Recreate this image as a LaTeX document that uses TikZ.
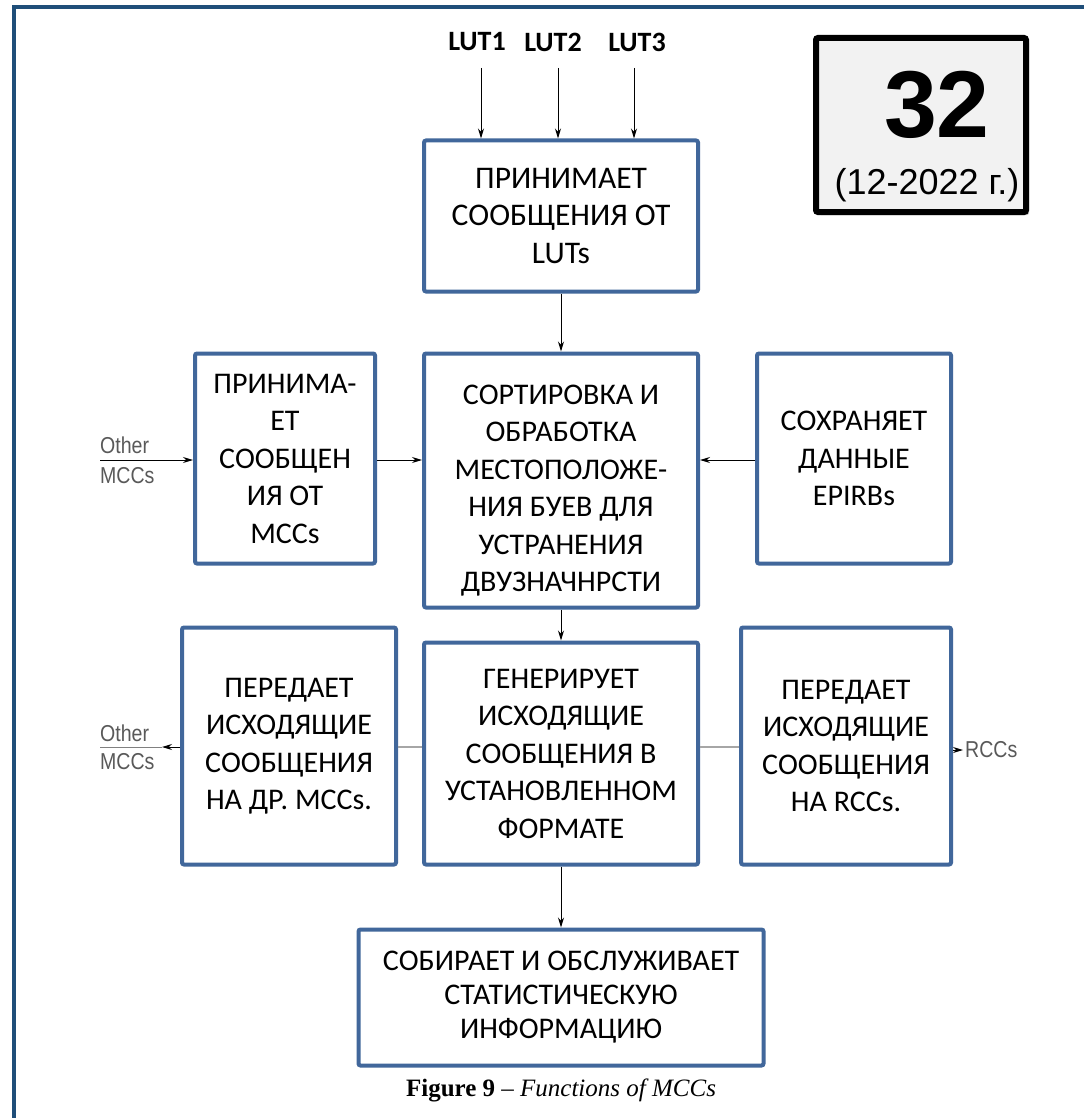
\documentclass[tikz,border=0pt]{standalone}
\usepackage{fontspec}
\setmainfont{Carlito}
\newfontfamily\arialfont{Liberation Sans}
\newfontfamily\narrowfont[FakeStretch=0.85]{Liberation Sans}
\newfontfamily\timesfont{Liberation Serif}
\usetikzlibrary{arrows.meta,shadows}
\definecolor{frameblue}{RGB}{31,78,121}
\definecolor{boxblue}{RGB}{65,103,155}
\definecolor{badgefill}{RGB}{242,242,242}
\begin{document}
\begin{tikzpicture}[x=1pt,y=-1pt,
  fn/.style={draw=boxblue, line width=4pt, rounded corners=2pt, fill=white,
    inner sep=0pt, align=center, font=\fontsize{30}{37.5}\selectfont},
  arr/.style={-{Stealth[length=10pt,width=6pt]}, line width=1pt},
  link/.style={line width=1.2pt, draw=black!35},
  side/.style={font=\narrowfont\fontsize{23}{25}\selectfont, text=black!65, inner sep=0pt},
  lut/.style={font=\bfseries\fontsize{28}{30}\selectfont, inner sep=0pt}]
\useasboundingbox (0,0) rectangle (1084,1118);
\fill[white] (0,0) rectangle (1084,1118);

% page frame
\draw[frameblue, line width=4pt] (14,1118) -- (14,7.5) -- (1084,7.5);

% badge with issue number
\node[draw=black, line width=6pt, fill=badgefill, rounded corners=2pt,
  minimum width=210pt, minimum height=174pt,
  drop shadow={shadow xshift=3pt, shadow yshift=-3pt, opacity=0.45}] (badge) at (921,125) {};
\node[font=\arialfont\bfseries\fontsize{95}{100}\selectfont] (num) at (937,105) {32};
\node[font=\arialfont\fontsize{36}{40}\selectfont] (date) at (927,185) {(12-2022 г.)};

% function blocks
\node[fn, font=\fontsize{31.5}{37.5}\selectfont, minimum width=274pt, minimum height=151pt] (top) at (561,216)
  {ПРИНИМАЕТ\\СООБЩЕНИЯ ОТ\\LUTs};
\node[fn, minimum width=274pt, minimum height=254pt] (sort) at (561,480.5)
  {\raisebox{-10pt}[\height][\depth]{\begin{tabular}{@{}c@{}}СОРТИРОВКА И\\ОБРАБОТКА\\МЕСТОПОЛОЖЕ-\\НИЯ БУЕВ ДЛЯ\\УСТРАНЕНИЯ\\ДВУЗНАЧНРСТИ\end{tabular}}};
\node[fn, minimum width=180pt, minimum height=210pt] (recv) at (285,458.5)
  {ПРИНИМА-\\ЕТ\\СООБЩЕН\\ИЯ ОТ\\MCCs};
\node[fn, minimum width=194pt, minimum height=210pt] (store) at (854,458.5)
  {СОХРАНЯЕТ\\ДАННЫЕ\\EPIRBs};
\node[fn, minimum width=214pt, minimum height=237pt] (fwdL) at (289,746)
  {ПЕРЕДАЕТ\\ИСХОДЯЩИЕ\\СООБЩЕНИЯ\\НА ДР. MCCs.};
\node[fn, minimum width=274pt, minimum height=222pt] (gen) at (561,753.5)
  {ГЕНЕРИРУЕТ\\ИСХОДЯЩИЕ\\СООБЩЕНИЯ В\\УСТАНОВЛЕННОМ\\ФОРМАТЕ};
\node[fn, minimum width=210pt, minimum height=237pt] (fwdR) at (846,746)
  {ПЕРЕДАЕТ\\ИСХОДЯЩИЕ\\СООБЩЕНИЯ\\НА RCCs.};
\node[fn, font=\fontsize{30}{34}\selectfont, minimum width=405pt, minimum height=136pt] (stats) at (561,997.5)
  {СОБИРАЕТ И ОБСЛУЖИВАЕТ\\СТАТИСТИЧЕСКУЮ\\ИНФОРМАЦИЮ};

% inputs from the LUTs
\node[lut] (lut1) at (477,42) {LUT1};
\node[lut] (lut2) at (553,42) {LUT2};
\node[lut] (lut3) at (637,42) {LUT3};
\coordinate (l1) at (481,68);
\coordinate (l2) at (558,68);
\coordinate (l3) at (634,68);
\draw[arr] (l1) -- (l1 |- top.north);
\draw[arr] (l2) -- (l2 |- top.north);
\draw[arr] (l3) -- (l3 |- top.north);

% vertical flow
\draw[arr] (top.south) -- (sort.north);
\draw[arr] (sort.south) -- (gen.north);
\draw[arr] (gen.south) -- (stats.north);

% side flows
\coordinate (inL) at (100,460);
\node[side, anchor=south west] (oth1) at (100,454) {Other};
\node[side, anchor=north west] (mcc1) at (100,467) {MCCs};
\draw[arr] (inL) -- (inL -| recv.west);
\draw[arr] (recv.east |- 0,460) -- (sort.west |- 0,460);
\draw[arr] (store.west |- 0,460) -- (sort.east |- 0,460);

\draw[link] (gen.west |- 0,747) -- (fwdL.east |- 0,747);
\draw[link] (gen.east |- 0,747) -- (fwdR.west |- 0,747);
\coordinate (outL) at (162,747);
\coordinate (outLend) at (100,747);
\draw[arr] (fwdL.west |- 0,747) -- (outL);
\draw[line width=0.8pt, black!50] (outL) -- (outLend);
\node[side, anchor=south west] (oth2) at (100,742) {Other};
\node[side, anchor=north west] (mcc2) at (100,753) {MCCs};

\coordinate (outR) at (963,750);
\draw[arr] (fwdR.east |- 0,750) -- (outR);
\node[side, anchor=west] (rcc) at (965,750) {RCCs};

% caption
\node[font=\timesfont\fontsize{25}{28}\selectfont] (cap) at (561,1090)
  {\textbf{Figure 9} – \textit{Functions of MCCs}};
\end{tikzpicture}
\end{document}
